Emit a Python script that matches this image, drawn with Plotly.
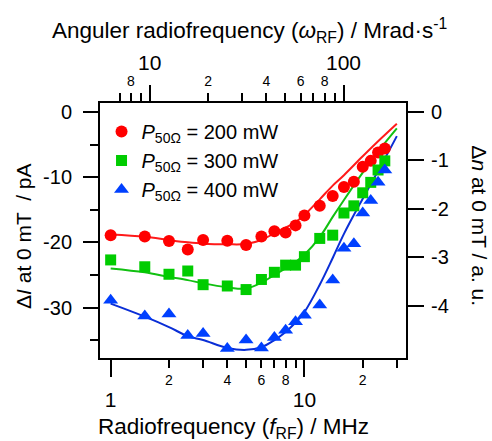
import math
import plotly.graph_objects as go

# ---------------- data ----------------
f_meas = [1, 1.5, 2, 2.5, 3, 4, 5, 6, 7, 8, 9, 10, 12, 14, 16, 18, 20, 22, 24, 26]
I_200 = [-18.9, -19.1, -19.8, -21.1, -19.65, -19.75, -20.4, -19.1, -18.3, -18.5,
         -17.4, -15.9, -14.4, -12.9, -11.5, -10.7, -8.4, -7.5, -6.2, -5.6]
I_300 = [-22.7, -23.75, -24.9, -24.4, -26.5, -26.7, -27.25, -25.7, -24.6, -23.5,
         -23.5, -22.2, -19.4, -18.9, -15.5, -14.4, -12.4, -10.8, -8.9, -7.5]
I_400 = [-28.9, -31.3, -31.0, -34.3, -34.0, -36.3, -35.0, -36.2, -34.6, -33.5,
         -32.2, -31.2, -29.6, -25.8, -20.9, -20.2, -15.5, -13.6, -10.8, -8.9]

f_fit = [1, 1.5, 2, 2.5, 3, 4, 5, 6, 7, 8, 9, 10, 12, 14, 16, 20, 25, 30]
fit_200 = [-18.8, -19.15, -19.65, -20.0, -20.2, -20.3, -20.25, -19.65, -18.6, -17.75,
           -16.9, -15.8, -13.4, -11.3, -9.7, -6.8, -4.0, -1.8]
fit_300 = [-24.0, -24.6, -25.3, -25.8, -26.3, -26.9, -27.1, -26.2, -25.0, -24.0,
           -23.0, -21.9, -19.2, -16.1, -13.5, -9.3, -5.4, -2.5]
fit_400 = [-29.4, -31.4, -33.0, -34.4, -35.0, -36.2, -36.5, -36.1, -35.0, -33.75,
           -32.3, -30.7, -26.5, -22.4, -18.7, -13.3, -8.1, -3.7]

labels = ["<i>P</i><sub>50Ω</sub> = 200 mW",
          "<i>P</i><sub>50Ω</sub> = 300 mW",
          "<i>P</i><sub>50Ω</sub> = 400 mW"]

# tick definitions
f_major = [1, 10]
f_minor = [2, 3, 4, 5, 6, 7, 8, 9, 20, 30]
f_minor_lab = [2, 4, 6, 8, 20]
f_minor_txt = ["2", "4", "6", "8", "2"]
w_major = [10, 100]
w_minor = [7, 8, 9, 20, 30, 40, 50, 60, 70, 80, 90]
w_minor_lab = [8, 20, 40, 60, 80]
w_minor_txt = ["8", "2", "4", "6", "8"]
y_left_major = [0, -10, -20, -30]
y_left_minor = [-5, -15, -25, -35]
y_right_major = [0, -1, -2, -3, -4]

# ---------------- style ----------------
FONT = "Liberation Sans, Arial, Helvetica, sans-serif"
RED, GREEN, BLUE = "#ff0000", "#00cc00", "#0040ff"
RED_L, GREEN_L, BLUE_L = "#ff1a1a", "#11c011", "#0a2ed6"
X_RANGE = [math.log10(0.881), math.log10(33.45)]
Y_RANGE = [-37.75, 1.38]
Y2_RANGE = [-5.08, 0.186]

fig = go.Figure()
for ff, col in [(fit_200, RED_L), (fit_300, GREEN_L), (fit_400, BLUE_L)]:
    fig.add_trace(go.Scatter(x=f_fit, y=ff, mode="lines", line=dict(color=col, width=2, shape="spline"),
                             showlegend=False, hoverinfo="skip"))
for yy, col, sym, sz, lab in [(I_200, RED, "circle", 12, labels[0]),
                              (I_300, GREEN, "square", 11, labels[1]),
                              (I_400, BLUE, "triangle-up", 13, labels[2])]:
    fig.add_trace(go.Scatter(x=f_meas, y=yy, mode="markers", name=lab,
                             marker=dict(color=col, symbol=sym, size=sz, line=dict(width=0))))

# invisible anchor traces for the extra axes
for ax in [dict(yaxis="y2"), dict(xaxis="x2"), dict(xaxis="x3"), dict(xaxis="x4")]:
    fig.add_trace(go.Scatter(x=[1], y=[0], mode="markers", marker=dict(opacity=0),
                             showlegend=False, hoverinfo="skip", **ax))

two_pi = 2 * math.pi
common = dict(showgrid=False, zeroline=False, ticks="outside", tickcolor="black",
              tickwidth=2, linecolor="black", linewidth=2, automargin=False)

fig.update_layout(
    width=492, height=441,
    margin=dict(l=100, r=86, t=103, b=83),
    paper_bgcolor="white", plot_bgcolor="white",
    font=dict(family=FONT, color="black", size=20),
    showlegend=True,
    legend=dict(x=0.005, y=0.965, xanchor="left", yanchor="top", bgcolor="rgba(0,0,0,0)",
                font=dict(size=20, family=FONT), itemwidth=30, tracegroupgap=0),
    xaxis=dict(type="log", range=X_RANGE, showline=True, tickvals=f_major,
               ticktext=[str(v) for v in f_major], ticklen=17, tickfont=dict(size=21),
               ticklabelstandoff=5,
               minor=dict(tickvals=f_minor, ticklen=8, ticks="outside", tickwidth=2, tickcolor="black"),
               anchor="y", side="bottom", **common),
    xaxis3=dict(type="log", range=X_RANGE, overlaying="x", anchor="y", side="bottom",
                showline=False, tickvals=f_minor_lab, ticktext=f_minor_txt, ticklen=8,
                tickfont=dict(size=14), ticklabelstandoff=1, automargin=False,
                showgrid=False, zeroline=False, ticks="outside", tickcolor="black", tickwidth=2),
    xaxis2=dict(type="log", range=X_RANGE, overlaying="x", anchor="y", side="top",
                showline=True, tickvals=[w / two_pi for w in w_major],
                ticktext=[str(w) for w in w_major], ticklen=16, tickfont=dict(size=21),
                ticklabelstandoff=7,
                minor=dict(tickvals=[w / two_pi for w in w_minor], ticklen=8, ticks="outside",
                           tickwidth=2, tickcolor="black"),
                **common),
    xaxis4=dict(type="log", range=X_RANGE, overlaying="x", anchor="y", side="top",
                showline=False, tickvals=[w / two_pi for w in w_minor_lab], ticktext=w_minor_txt,
                ticklen=8, tickfont=dict(size=14), ticklabelstandoff=2, automargin=False,
                showgrid=False, zeroline=False, ticks="outside", tickcolor="black", tickwidth=2),
    yaxis=dict(range=Y_RANGE, showline=True, tickvals=y_left_major,
               ticktext=[str(v) for v in y_left_major], ticklen=15, tickfont=dict(size=20),
               ticklabelstandoff=7,
               minor=dict(tickvals=y_left_minor, ticklen=8, ticks="outside", tickwidth=2, tickcolor="black"),
               **common),
    yaxis2=dict(range=Y2_RANGE, overlaying="y", side="right", anchor="x", showline=True,
                tickvals=y_right_major, ticktext=[str(v) for v in y_right_major], ticklen=16,
                tickfont=dict(size=20), ticklabelstandoff=3, **common),
)

ann = dict(xref="paper", yref="paper", showarrow=False, font=dict(family=FONT, size=21, color="black"))
fig.add_annotation(text="Anguler radiofrequency (<i>ω</i><sub>RF</sub>) / Mrad·s<sup>-1</sup>",
                   x=0.49, y=1.285, xanchor="center", yanchor="middle",
                   font=dict(family=FONT, size=22.5, color="black"),
                   xref="paper", yref="paper", showarrow=False)
fig.add_annotation(text="Radiofrequency (<i>f</i><sub>RF</sub>) / MHz",
                   x=0.436, y=-0.275, xanchor="center", yanchor="middle",
                   font=dict(family=FONT, size=22.5, color="black"),
                   xref="paper", yref="paper", showarrow=False)
fig.add_annotation(text="Δ<i>I</i> at 0 mT  / pA", textangle=-90,
                   x=-0.252, y=0.478, xanchor="center", yanchor="middle", **ann)
fig.add_annotation(text="Δ<i>n</i> at 0 mT / a. u.", textangle=90,
                   x=1.242, y=0.52, xanchor="center", yanchor="middle", **ann)

fig.write_html("out.html", config={"displayModeBar": False},
               post_script="document.body.style.margin='0px';document.body.style.overflow='hidden';")
